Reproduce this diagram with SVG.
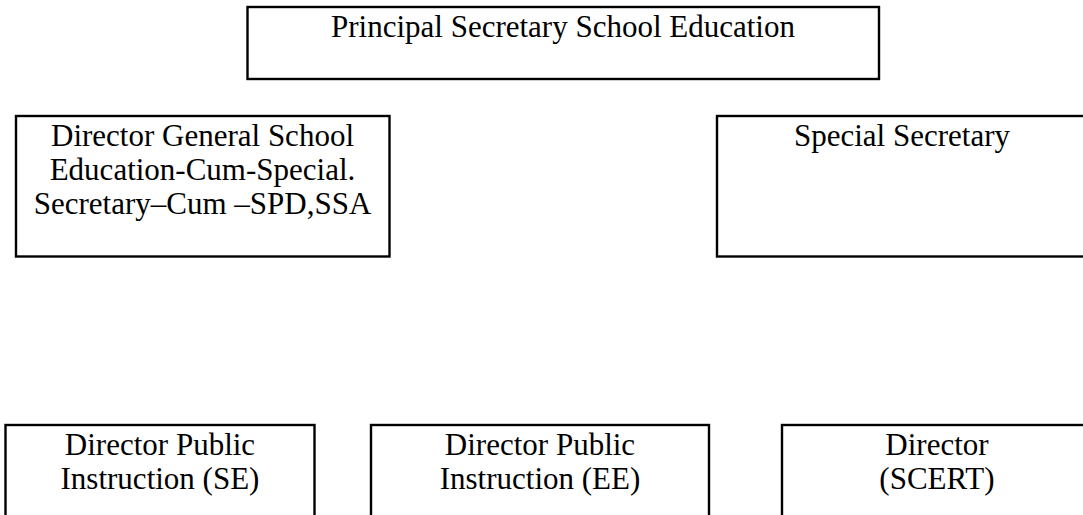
<svg xmlns="http://www.w3.org/2000/svg" width="1083" height="515" viewBox="0 0 1083 515">
  <style>
    .box { fill: #ffffff; stroke: #000000; stroke-width: 2.4; }
    .lbl { font-family: "Liberation Serif", "Times New Roman", serif; font-size: 31px; fill: #000000; text-anchor: middle; }
  </style>
  <rect width="1083" height="515" fill="#ffffff"/>

  <g id="connectors"></g>

  <g id="principal-secretary">
    <rect class="box" x="247.5" y="7" width="631.5" height="72"/>
    <text class="lbl" x="563" y="37">Principal Secretary School Education</text>
  </g>

  <g id="director-general">
    <rect class="box" x="16" y="116" width="373.5" height="140.5"/>
    <text class="lbl" x="202.5" y="146">Director General School</text>
    <text class="lbl" x="202.5" y="180">Education-Cum-Special.</text>
    <text class="lbl" x="202.5" y="214">Secretary–Cum –SPD,SSA</text>
  </g>

  <g id="special-secretary">
    <rect class="box" x="717" y="116" width="372" height="140.5"/>
    <text class="lbl" x="902" y="146">Special Secretary</text>
  </g>

  <g id="dpi-se">
    <rect class="box" x="5.5" y="425" width="309" height="110"/>
    <text class="lbl" x="160" y="455">Director Public</text>
    <text class="lbl" x="160" y="489">Instruction (SE)</text>
  </g>

  <g id="dpi-ee">
    <rect class="box" x="371" y="425" width="338" height="110"/>
    <text class="lbl" x="540" y="455">Director Public</text>
    <text class="lbl" x="540" y="489">Instruction (EE)</text>
  </g>

  <g id="director-scert">
    <rect class="box" x="782" y="425" width="310" height="110"/>
    <text class="lbl" x="937" y="455">Director</text>
    <text class="lbl" x="937" y="489">(SCERT)</text>
  </g>
</svg>
